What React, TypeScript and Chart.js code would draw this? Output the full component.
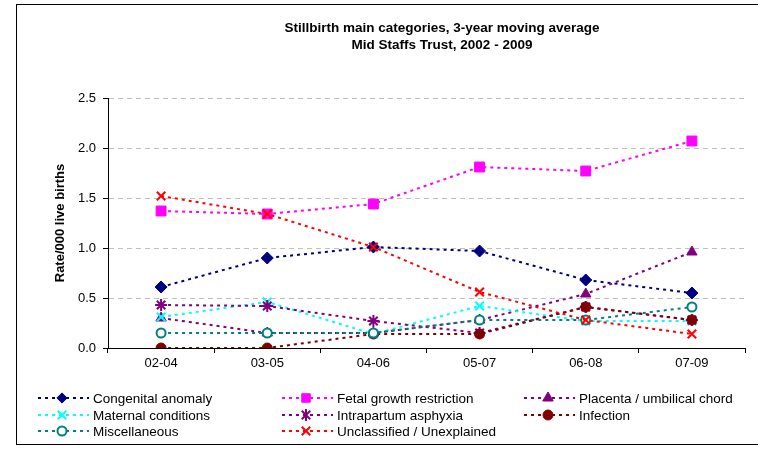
import React, { useEffect, useRef } from 'react';
import { Chart, registerables } from 'chart.js';

Chart.register(...registerables);

const categories = ['02-04', '03-05', '04-06', '05-07', '06-08', '07-09'];
const congenital = [0.61, 0.9, 1.01, 0.97, 0.68, 0.55];
const fetal = [1.37, 1.34, 1.44, 1.81, 1.77, 2.07];
const placenta = [0.3, 0.15, 0.15, 0.28, 0.54, 0.96];
const maternal = [0.31, 0.46, 0.14, 0.42, 0.27, 0.27];
const intrapartum = [0.43, 0.42, 0.27, 0.15, 0.41, 0.28];
const infection = [0, 0, 0.14, 0.14, 0.41, 0.28];
const miscellaneous = [0.15, 0.15, 0.15, 0.28, 0.28, 0.41];
const unclassified = [1.52, 1.34, 1.01, 0.56, 0.28, 0.14];
const yTickValues = [0, 0.5, 1, 1.5, 2, 2.5];
const titleLines = ['Stillbirth main categories, 3-year moving average', 'Mid Staffs Trust, 2002 - 2009'];
const yTitle = 'Rate/000 live births';

const FONT = '"Liberation Sans", Arial, sans-serif';

type Style = { color: string; marker: string; fill: string; radius: number; bw: number };

const series: { name: string; data: number[]; s: Style }[] = [
  { name: 'Congenital anomaly', data: congenital, s: { color: '#000080', marker: 'rectRot', fill: '#000080', radius: 6, bw: 1 } },
  { name: 'Fetal growth restriction', data: fetal, s: { color: '#FF00FF', marker: 'rect', fill: '#FF00FF', radius: 7, bw: 1 } },
  { name: 'Placenta / umbilical chord', data: placenta, s: { color: '#800080', marker: 'triangle', fill: '#800080', radius: 6, bw: 1 } },
  { name: 'Maternal conditions', data: maternal, s: { color: '#00FFFF', marker: 'crossRot', fill: '#00FFFF', radius: 6, bw: 2 } },
  { name: 'Intrapartum asphyxia', data: intrapartum, s: { color: '#800080', marker: 'star', fill: '#800080', radius: 6, bw: 2 } },
  { name: 'Infection', data: infection, s: { color: '#800000', marker: 'circle', fill: '#800000', radius: 5, bw: 1 } },
  { name: 'Miscellaneous', data: miscellaneous, s: { color: '#008080', marker: 'circle', fill: '#FFFFFF', radius: 4.5, bw: 2 } },
  { name: 'Unclassified / Unexplained', data: unclassified, s: { color: '#FF0000', marker: 'crossRot', fill: '#FF0000', radius: 6, bw: 2 } },
];

function drawMarker(ctx: CanvasRenderingContext2D, s: Style, x: number, y: number) {
  const r = s.radius;
  ctx.save();
  ctx.setLineDash([]);
  ctx.strokeStyle = s.color;
  ctx.fillStyle = s.fill;
  ctx.lineWidth = s.bw;
  ctx.beginPath();
  switch (s.marker) {
    case 'rectRot':
      ctx.moveTo(x, y - r * 0.85); ctx.lineTo(x + r * 0.85, y); ctx.lineTo(x, y + r * 0.85); ctx.lineTo(x - r * 0.85, y); ctx.closePath();
      ctx.fill(); ctx.stroke(); break;
    case 'rect': {
      const h = r * Math.SQRT1_2;
      ctx.rect(x - h, y - h, 2 * h, 2 * h); ctx.fill(); ctx.stroke(); break;
    }
    case 'triangle':
      ctx.moveTo(x, y - r); ctx.lineTo(x + r * 0.87, y + r * 0.5); ctx.lineTo(x - r * 0.87, y + r * 0.5); ctx.closePath();
      ctx.fill(); ctx.stroke(); break;
    case 'crossRot': {
      const d = r * Math.SQRT1_2;
      ctx.moveTo(x - d, y - d); ctx.lineTo(x + d, y + d); ctx.moveTo(x + d, y - d); ctx.lineTo(x - d, y + d); ctx.stroke(); break;
    }
    case 'star': {
      const d = r * Math.SQRT1_2;
      ctx.moveTo(x - d, y - d); ctx.lineTo(x + d, y + d); ctx.moveTo(x + d, y - d); ctx.lineTo(x - d, y + d);
      ctx.moveTo(x, y - r); ctx.lineTo(x, y + r); ctx.stroke(); break;
    }
    default:
      ctx.arc(x, y, r, 0, Math.PI * 2); ctx.fill(); ctx.stroke();
  }
  ctx.restore();
}

const decorPlugin = {
  id: 'decor',
  afterDraw(chart: any) {
    const ctx: CanvasRenderingContext2D = chart.ctx;
    ctx.save();
    // frame
    ctx.strokeStyle = '#000';
    ctx.lineWidth = 1;
    ctx.setLineDash([]);
    ctx.strokeRect(16.5, 4.5, 780, 440);
    // title
    ctx.fillStyle = '#000';
    ctx.font = `bold 13.5px ${FONT}`;
    ctx.textAlign = 'center';
    ctx.textBaseline = 'middle';
    ctx.fillText(titleLines[0], 442, 28);
    ctx.fillText(titleLines[1], 442, 45);
    // y title
    ctx.save();
    ctx.translate(60, 223);
    ctx.rotate(-Math.PI / 2);
    ctx.font = `bold 13px ${FONT}`;
    ctx.fillText(yTitle, 0, 0);
    ctx.restore();
    // legend
    const colX = [38, 282, 524];
    const rowY = [398, 415, 431];
    ctx.font = `13.5px ${FONT}`;
    ctx.textAlign = 'left';
    series.forEach((ser, i) => {
      const col = i % 3;
      const row = Math.floor(i / 3);
      const x0 = colX[col];
      const y = rowY[row];
      ctx.save();
      ctx.strokeStyle = ser.s.color;
      ctx.lineWidth = 2;
      ctx.setLineDash([3, 4]);
      ctx.beginPath();
      ctx.moveTo(x0, y);
      ctx.lineTo(x0 + 51, y);
      ctx.stroke();
      ctx.restore();
      drawMarker(ctx, { ...ser.s, radius: Math.min(ser.s.radius, 6) }, x0 + 24, y);
      ctx.fillStyle = '#000';
      ctx.fillText(ser.name, x0 + 55, y + 1);
    });
    ctx.restore();
  },
};

export default function App() {
  const ref = useRef<HTMLCanvasElement>(null);
  useEffect(() => {
    if (!ref.current) return;
    Chart.defaults.font.family = FONT;
    Chart.defaults.font.size = 13;
    Chart.defaults.color = '#000';
    const n = series.length;
    const chart = new Chart(ref.current, {
      type: 'line',
      data: {
        labels: categories,
        datasets: series.map((ser, i) => ({
          label: ser.name,
          data: ser.data,
          borderColor: ser.s.color,
          backgroundColor: ser.s.fill,
          borderWidth: 2,
          borderDash: [3, 4],
          fill: false,
          tension: 0,
          pointStyle: ser.s.marker as any,
          pointRadius: ser.s.radius,
          pointHoverRadius: ser.s.radius,
          pointBackgroundColor: ser.s.fill,
          pointBorderColor: ser.s.color,
          pointBorderWidth: ser.s.bw,
          order: n - i,
        })),
      },
      options: {
        responsive: false,
        animation: false,
        devicePixelRatio: 1,
        layout: { padding: { left: 0, right: 13, top: 98, bottom: 0 } },
        plugins: { legend: { display: false }, title: { display: false }, tooltip: { enabled: false } },
        scales: {
          x: {
            offset: true,
            grid: { offset: true, drawOnChartArea: false, drawTicks: true, tickLength: 5, tickColor: '#000', color: '#000' },
            border: { display: true, color: '#000', width: 1 },
            ticks: { padding: 3, font: { size: 13, family: FONT }, color: '#000' },
            afterFit: (scale: any) => { scale.height = 102; },
          },
          y: {
            min: 0,
            max: 2.5,
            afterBuildTicks: (scale: any) => { scale.ticks = yTickValues.map((v) => ({ value: v })); },
            grid: { color: '#C0C0C0', tickColor: '#000', tickLength: 5, tickBorderDash: [], lineWidth: 1 },
            border: { display: true, color: '#000', width: 1, dash: [5, 4] },
            ticks: { padding: 7, font: { size: 13, family: FONT }, color: '#000', callback: (v: any) => Number(v).toFixed(1) },
            afterFit: (scale: any) => { scale.width = 108; },
          },
        },
      },
      plugins: [decorPlugin],
    });
    return () => chart.destroy();
  }, []);
  return (
    <div style={{ position: 'absolute', left: 0, top: 0, width: 758, height: 450, background: '#fff' }}>
      <canvas ref={ref} width={758} height={450} />
    </div>
  );
}
